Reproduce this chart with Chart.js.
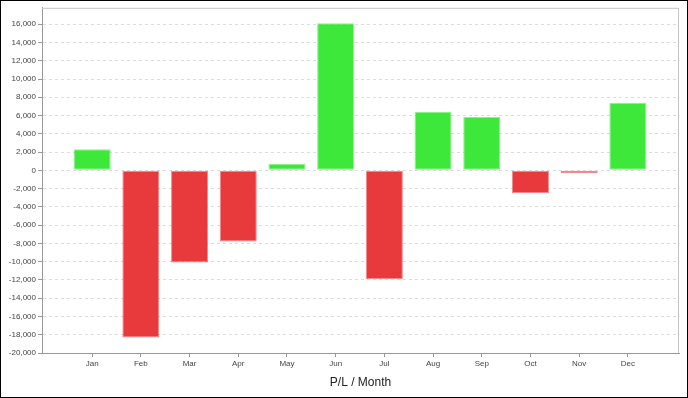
<!DOCTYPE html>
<html>
<head>
<meta charset="utf-8">
<script src="https://cdn.jsdelivr.net/npm/chart.js@4/dist/chart.umd.min.js"></script>
<style>
html, body { margin: 0; padding: 0; background: #fff; }
#wrap { width: 686px; height: 396px; border: 1px solid #000; }
canvas { display: block; }
</style>
</head>
<body>
<div id="wrap"><canvas id="plChart" width="686" height="396"></canvas></div>
<script>
const months = ["Jan","Feb","Mar","Apr","May","Jun","Jul","Aug","Sep","Oct","Nov","Dec"]
const profit = [2300, -18300, -10100, -7800, 700, 16100, -11900, 6400, 5850, -2500, -300, 7400]
const yMin = -20000
const yMax = 17800
const yStep = 2000

const GREEN = "#3ee83a"
const RED = "#e8393d"

// frame on top and right of the plot, like the original
const plotFrame = {
  id: "plotFrame",
  afterDraw(chart){
    const a = chart.chartArea
    const c = chart.ctx
    c.save()
    c.strokeStyle = "#c4c4c4"
    c.lineWidth = 1
    c.beginPath()
    c.moveTo(a.left, a.top + 0.5)
    c.lineTo(a.right - 0.5, a.top + 0.5)
    c.lineTo(a.right - 0.5, a.bottom)
    c.stroke()
    c.restore()
  }
}

const ctx = document.getElementById("plChart")

new Chart(ctx, {
  type: "bar",
  data: {
    datasets: [{
      label: "P/L",
      data: profit.map((v, i) => ({ x: i, y: v })),
      backgroundColor: profit.map(v => v >= 0 ? GREEN : RED),
      borderColor: profit.map(v => v >= 0 ? "rgba(62,232,58,0.6)" : "rgba(232,57,61,0.6)"),
      borderWidth: 1,
      borderSkipped: false,
      barPercentage: 0.76,
      categoryPercentage: 1
    }]
  },
  plugins: [plotFrame],
  options: {
    responsive: false,
    animation: false,
    layout: { padding: { top: 6, right: 8, left: 0, bottom: 0 } },
    plugins: {
      legend: { display: false },
      tooltip: { enabled: false }
    },
    scales: {
      x: {
        type: "linear",
        offset: false,
        min: -1.03,
        max: 12.05,
        afterBuildTicks(scale){
          scale.ticks = months.map((m, i) => ({ value: i }))
        },
        afterFit(scale){ scale.height = 44 },
        ticks: {
          callback: (v) => months[v],
          color: "#444",
          font: { family: "Liberation Sans, Arial", size: 8 },
          padding: 2,
          maxRotation: 0,
          autoSkip: false
        },
        grid: {
          offset: false,
          drawOnChartArea: false,
          tickLength: 4,
          color: "#999"
        },
        border: { color: "#999", width: 1 },
        title: {
          display: true,
          text: "P/L / Month",
          color: "#222",
          font: { family: "Liberation Sans, Arial", size: 12 },
          padding: { top: 0, bottom: 7 }
        }
      },
      y: {
        min: yMin,
        max: yMax,
        afterBuildTicks(scale){
          const t = []
          for(let v = yMin; v <= yMax; v += yStep) t.push({ value: v })
          scale.ticks = t
        },
        afterFit(scale){ scale.width = 41 },
        ticks: {
          callback: (v) => v.toLocaleString("en-US"),
          color: "#444",
          font: { family: "Liberation Sans, Arial", size: 8 },
          padding: 2
        },
        grid: {
          color: "#dcdcdc",
          tickColor: "#999",
          tickLength: 4
        },
        border: { color: "#999", width: 1, dash: [3, 3] }
      }
    }
  }
})
</script>
</body>
</html>
